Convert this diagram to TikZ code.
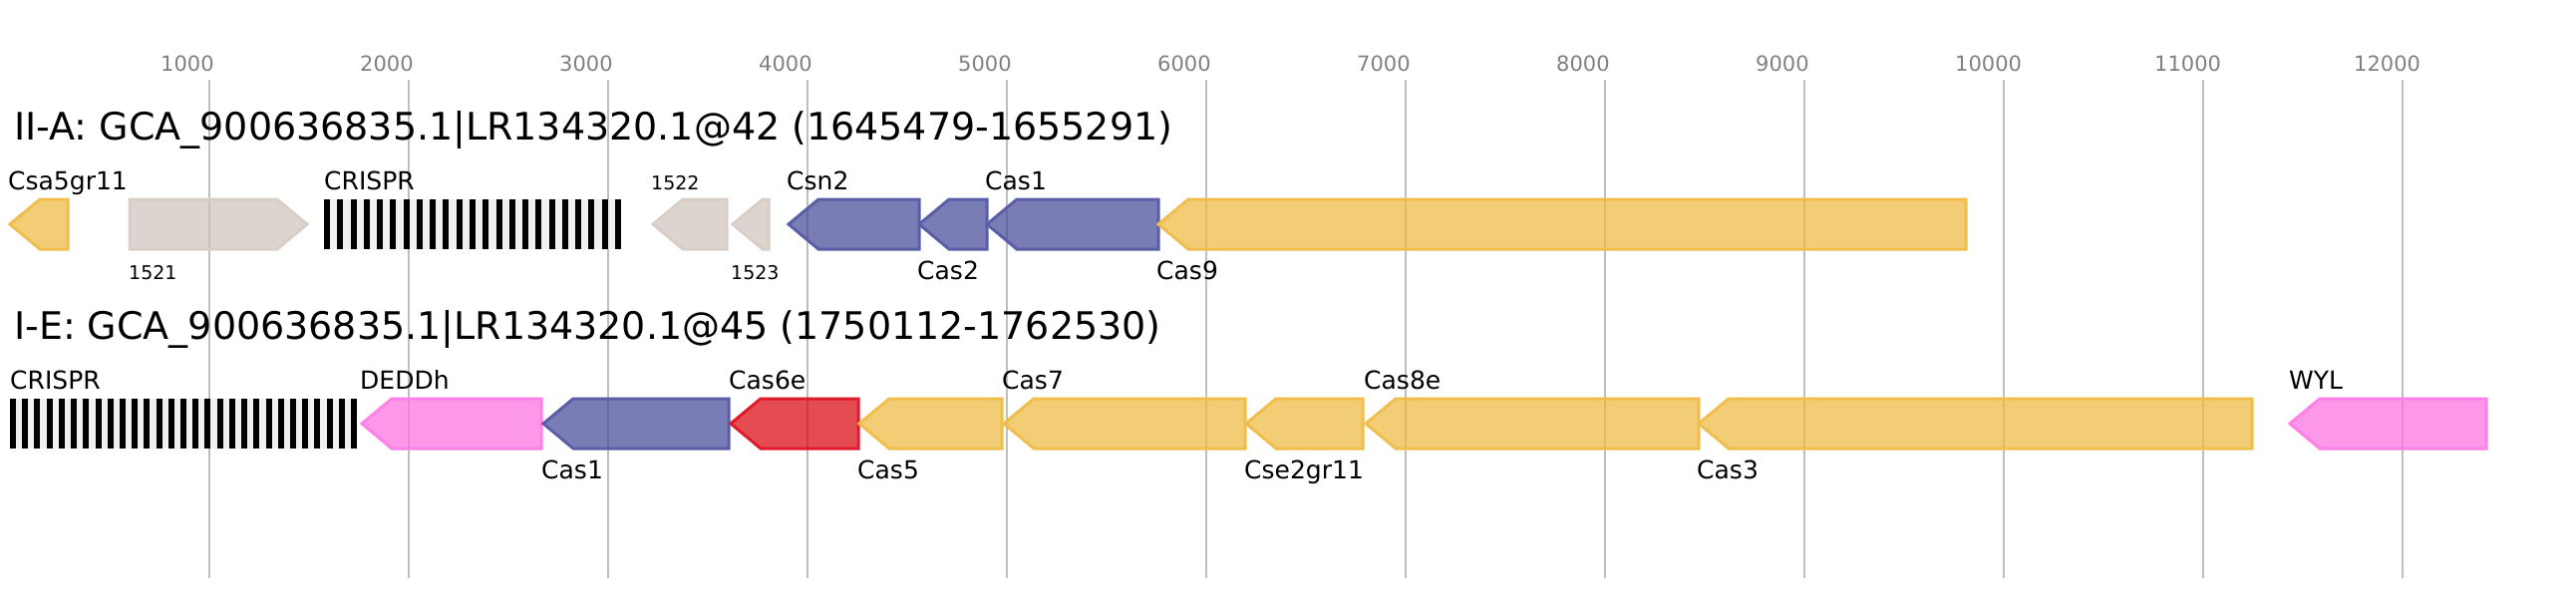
\documentclass[tikz,border=0pt]{standalone}
\usepackage{fontspec}
\setmainfont{DejaVu Sans}
\usetikzlibrary{positioning}
\definecolor{fill_yellow}{HTML}{ECB83A}
\definecolor{edge_yellow}{HTML}{F0BE4C}
\definecolor{fill_blue}{HTML}{414595}
\definecolor{edge_blue}{HTML}{5A5EA8}
\definecolor{fill_pink}{HTML}{FC6CE0}
\definecolor{edge_pink}{HTML}{FF80E6}
\definecolor{fill_red}{HTML}{D80008}
\definecolor{edge_red}{HTML}{E01A2A}
\definecolor{fill_grey}{HTML}{CDC2BA}
\definecolor{edge_grey}{HTML}{D8CEC7}
\tikzset{
        gene/.style={line width=3pt, line join=miter, fill opacity=0.7},
        % Cas genes
        gene_yellow/.style={gene, draw=edge_yellow, fill=fill_yellow},
        gene_blue/.style={gene, draw=edge_blue, fill=fill_blue},
        gene_red/.style={gene, draw=edge_red, fill=fill_red},
        % Accessory genes
        gene_pink/.style={gene, draw=edge_pink, fill=fill_pink},
        % Unknown genes
        gene_grey/.style={gene, draw=edge_grey, fill=fill_grey},
        % Labels
        gene_label/.style={anchor=base west, inner sep=0pt, font=\fontsize{25}{30}\selectfont},
        small_label/.style={anchor=base west, inner sep=0pt, font=\fontsize{19}{23}\selectfont},
        title_label/.style={anchor=base west, inner sep=0pt, font=\fontsize{38}{45}\selectfont},
        tick_label/.style={anchor=base west, inner sep=0pt, text=gray, font=\fontsize{21}{25}\selectfont},
        grid_line/.style={line width=2pt, draw=black!25}
}
% tip, right end, top
\newcommand{\leftgene}[4]{\draw[#1] (#3,#4) -- (#2+30,#4) -- (#2,#4+25) -- (#2+30,#4+50) -- (#3,#4+50) -- cycle;}
\newcommand{\rightgene}[4]{\draw[#1] (#2,#4) -- (#3-30,#4) -- (#3,#4+25) -- (#3-30,#4+50) -- (#2,#4+50) -- cycle;}
% start, end, top, last repeat
\newcommand{\crisprarray}[4]{%
  \fill[black!6] (#1,#3) rectangle (#2,#3+50);
  \foreach \i in {0,...,#4} \fill[black] ({#1+\i*(#2-#1-6)/#4},#3) rectangle +(6,50);}

\begin{document}
\begin{tikzpicture}[x=1pt, y=-1pt]
    \useasboundingbox (0,0) rectangle (2584,600);
    \foreach \k in {1,...,12} {
        \draw[grid_line] ({10+200*\k},80) -- ({10+200*\k},580);
        \node[tick_label] (tick\k) at ({10+200*\k-49},71) {\k000};
    }
    % II-A
    \node[title_label] (title_iia) at (14,140) {II-A: GCA\_900636835.1|LR134320.1@42 (1645479-1655291)};
    \leftgene{gene_yellow}{10}{68}{200}
    \rightgene{gene_grey}{130}{308}{200}
    \crisprarray{325}{623}{200}{22}
    \leftgene{gene_grey}{655}{729}{200}
    \leftgene{gene_grey}{735}{771}{200}
    \leftgene{gene_blue}{791}{922}{200}
    \leftgene{gene_blue}{922}{990}{200}
    \leftgene{gene_blue}{990}{1162}{200}
    \leftgene{gene_yellow}{1162}{1972}{200}
    \node[gene_label] (l_csa5) at (8,190) {Csa5gr11};
    \node[small_label] (l_1521) at (129,280) {1521};
    \node[gene_label] (l_crispr_a) at (325,190) {CRISPR};
    \node[small_label] (l_1522) at (653,190) {1522};
    \node[small_label] (l_1523) at (733,280) {1523};
    \node[gene_label] (l_csn2) at (789,190) {Csn2};
    \node[gene_label] (l_cas2) at (920,280) {Cas2};
    \node[gene_label] (l_cas1_a) at (988,190) {Cas1};
    \node[gene_label] (l_cas9) at (1160,280) {Cas9};
    % I-E
    \node[title_label] (title_ie) at (14,340) {I-E: GCA\_900636835.1|LR134320.1@45 (1750112-1762530)};
    \crisprarray{10}{358}{400}{28}
    \leftgene{gene_pink}{363}{543}{400}
    \leftgene{gene_blue}{545}{731}{400}
    \leftgene{gene_red}{733}{861}{400}
    \leftgene{gene_yellow}{862}{1005}{400}
    \leftgene{gene_yellow}{1007}{1249}{400}
    \leftgene{gene_yellow}{1250}{1367}{400}
    \leftgene{gene_yellow}{1370}{1704}{400}
    \leftgene{gene_yellow}{1704}{2259}{400}
    \leftgene{gene_pink}{2297}{2494}{400}
    \node[gene_label] (l_crispr_b) at (10,390) {CRISPR};
    \node[gene_label] (l_deddh) at (361,390) {DEDDh};
    \node[gene_label] (l_cas1_b) at (543,480) {Cas1};
    \node[gene_label] (l_cas6e) at (731,390) {Cas6e};
    \node[gene_label] (l_cas5) at (860,480) {Cas5};
    \node[gene_label] (l_cas7) at (1005,390) {Cas7};
    \node[gene_label] (l_cse2) at (1248,480) {Cse2gr11};
    \node[gene_label] (l_cas8e) at (1368,390) {Cas8e};
    \node[gene_label] (l_cas3) at (1702,480) {Cas3};
    \node[gene_label] (l_wyl) at (2296,390) {WYL};
\end{tikzpicture}
\end{document}
